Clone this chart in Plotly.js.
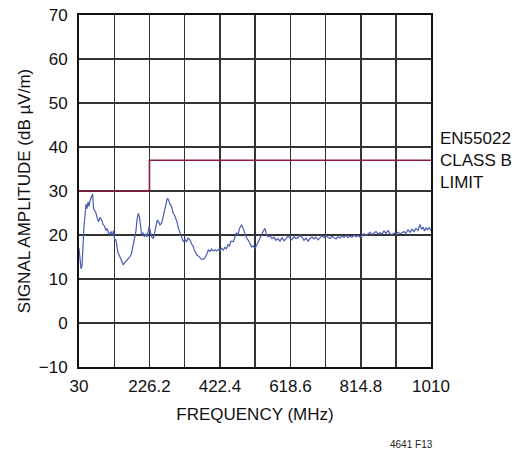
<!DOCTYPE html>
<html>
<head>
<meta charset="utf-8">
<script src="https://cdn.plot.ly/plotly-3.0.1.min.js"></script>
<style>html,body{margin:0;padding:0;background:#fff;}#chart{width:514px;height:451px;}</style>
</head>
<body>
<div id="chart"></div>
<script>
// Measured signal (MHz, dB µV/m)
const freqMHz = [30,32.8,35.6,38.4,41.1,43.9,49.5,52.3,55.1,57.8,60.6,63.4,66.2,68.1,70.4,73.2,77.3,80.1,84.3,88.5,93.2,96.8,101.0,105.2,108.0,112.1,116.3,119.1,123.3,126.0,128.8,133.0,135.8,138.6,144.1,148.3,153.3,158.1,162.2,166.4,172.0,176.2,180.3,184.5,188.7,191.5,195.1,198.4,201.2,204.6,208.2,212.4,216.5,219.3,222.9,225.7,229.1,233.2,236.9,240.2,243.0,248.0,251.3,255.5,260.2,263.9,268.0,272.2,275.8,279.2,283.3,288.1,291.7,295.9,300.0,302.8,307.0,311.2,315.4,320.4,325.1,329.3,333.5,339.0,343.2,347.4,351.5,357.7,362.7,366.9,371.0,376.1,380.8,385.0,390.0,394.7,398.9,403.1,408.6,413.4,418.4,422.5,426.7,431.7,436.5,440.6,444.8,449.0,453.2,459.6,464.3,468.5,472.7,476.8,483.0,486.6,489.4,492.1,496.9,501.3,506.1,510.8,514.4,520.0,524.2,528.3,533.9,538.1,542.3,547.8,552.0,557.0,561.7,567.3,572.9,578.4,584.0,589.6,595.2,600.7,606.3,611.9,617.4,623.0,628.6,634.1,639.7,645.3,650.8,656.4,662.0,667.5,673.1,678.7,684.2,689.8,695.4,700.9,706.5,712.1,717.6,723.2,728.8,734.4,739.9,745.5,751.1,756.6,762.2,767.8,773.3,778.9,784.5,790.0,795.6,801.2,806.7,812.3,817.9,823.4,829.0,834.6,840.1,845.7,851.3,856.8,862.4,868.0,873.6,879.1,884.7,890.3,895.8,901.4,907.0,912.5,918.1,923.7,929.2,934.8,940.4,945.9,951.5,957.1,962.6,968.2,973.8,979.3,983.5,987.7,991.9,996.0,1000.2,1004.4,1010];
const signalDb = [17.0,14.0,12.3,13.0,18.0,22.0,27.0,26.0,27.5,26.5,27.8,28.5,29.0,29.3,26.0,25.5,25.0,24.0,23.0,24.0,23.4,22.5,22.0,21.0,21.5,20.5,20.2,20.8,20.0,21.0,19.2,18.8,17.0,16.0,15.0,14.0,13.2,13.8,14.2,14.8,15.1,15.8,17.5,19.0,21.0,23.5,24.9,24.0,22.0,20.0,20.5,19.6,20.3,19.5,21.0,22.0,20.5,19.5,19.2,20.5,21.5,23.4,23.0,22.3,22.7,24.0,26.0,27.5,28.3,28.0,27.0,26.4,25.0,24.5,23.8,23.0,21.5,20.5,19.5,18.5,19.0,18.4,19.3,18.9,18.0,17.5,16.5,15.5,15.2,14.8,14.5,14.5,14.8,15.5,16.6,16.3,16.8,16.4,16.6,16.4,16.7,16.5,17.0,16.6,17.2,16.9,17.8,17.5,18.6,18.5,19.5,20.5,20.0,21.5,22.3,21.5,20.5,20.0,19.3,18.8,18.0,17.3,17.5,17.0,17.6,18.3,18.9,20.0,20.8,21.5,20.0,19.6,19.8,19.2,19.5,18.8,19.2,18.6,19.4,18.7,19.1,19.8,19.3,18.9,19.6,19.2,19.4,19.9,19.5,18.8,19.3,18.6,19.2,19.6,19.1,19.5,18.9,19.3,19.8,19.4,19.9,19.5,19.2,19.7,19.4,19.1,19.6,19.3,19.8,19.5,19.9,19.4,19.7,19.5,20.0,19.6,19.9,19.5,19.8,20.3,19.9,20.2,20.6,20.1,20.4,20.8,20.2,20.5,20.2,20.9,20.4,21.0,20.3,20.1,20.4,20.2,20.6,20.3,20.5,20.8,20.4,21.2,20.6,21.3,20.8,21.5,21.0,22.4,21.3,21.8,20.9,21.6,21.2,21.7,21.0];

// EN55022 Class B limit (step)
const limitFreq = [30, 226.2, 1010];
const limitDb = [30, 37, 37];

// Axis ticks
const xTickVals = [30,128.1,226.2,324.3,422.4,520.5,618.6,716.7,814.8,912.9,1010];
const xTickText = ['30','','226.2','','422.4','','618.6','','814.8','','1010'];
const yTickVals = [-10,0,10,20,30,40,50,60,70];

const FONT = '"Liberation Sans Narrow", "Arial Narrow", "Liberation Sans", Arial, sans-serif';

const traces = [
  {x: limitFreq, y: limitDb, type: 'scatter', mode: 'lines', line: {color: '#8b1c3c', width: 1.6, shape: 'hv'}, hoverinfo: 'skip'},
  {x: freqMHz, y: signalDb, type: 'scatter', mode: 'lines', line: {color: '#4a5cb3', width: 1.2}, hoverinfo: 'skip'}
];

const layout = {
  width: 514, height: 451,
  margin: {l: 79, r: 83, t: 15, b: 84},
  paper_bgcolor: '#fff', plot_bgcolor: '#fff',
  showlegend: false,
  font: {family: FONT, size: 16, color: '#111'},
  xaxis: {
    range: [30, 1010], tickvals: xTickVals, ticktext: xTickText,
    showgrid: true, gridcolor: '#333', gridwidth: 1.4,
    showline: true, linecolor: '#111', linewidth: 2, mirror: true,
    ticks: '', zeroline: false, ticklabelstandoff: 3,
    tickfont: {family: FONT, size: 17, color: '#111'},
    title: {text: 'FREQUENCY (MHz)', font: {family: FONT, size: 17, color: '#111'}, standoff: 13}
  },
  yaxis: {
    range: [-10, 70], tickvals: yTickVals,
    showgrid: true, gridcolor: '#333', gridwidth: 1.4,
    showline: true, linecolor: '#111', linewidth: 2, mirror: true,
    ticks: '', zeroline: false, ticklabelstandoff: 6,
    tickfont: {family: FONT, size: 17, color: '#111'},
    title: {text: 'SIGNAL AMPLITUDE (dB µV/m)', font: {family: FONT, size: 17, color: '#111'}, standoff: 4}
  },
  annotations: [
    {xref: 'paper', yref: 'y', x: 1.02, y: 37, xanchor: 'left', yanchor: 'middle', align: 'left',
     text: 'EN55022<br>CLASS B<br>LIMIT', showarrow: false, font: {family: FONT, size: 17, color: '#111'}},
    {xref: 'paper', yref: 'paper', x: 0.945, y: -0.22, xanchor: 'center', yanchor: 'middle',
     text: '4641 F13', showarrow: false, font: {family: FONT, size: 10, color: '#222'}}
  ]
};

Plotly.newPlot('chart', traces, layout, {displayModeBar: false, staticPlot: true});
</script>
</body>
</html>
